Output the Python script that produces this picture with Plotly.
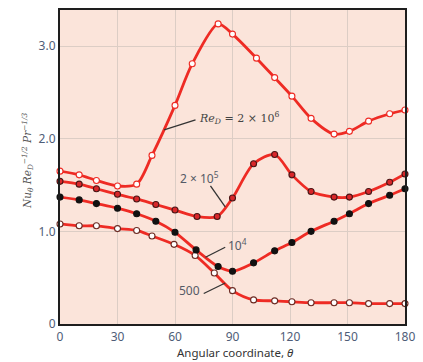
import plotly.graph_objects as go

# Re_D = 2 x 10^6 (open markers)
x_2e6 = [0, 10, 19, 30, 40, 48, 60, 69, 82.5, 90, 102.5, 112, 121, 131, 143, 151, 161, 172, 180]
y_2e6 = [1.65, 1.61, 1.55, 1.49, 1.51, 1.82, 2.36, 2.81, 3.24, 3.13, 2.87, 2.66, 2.46, 2.22, 2.05, 2.08, 2.19, 2.27, 2.31]

# Re_D = 2 x 10^5 (red filled)
x_2e5 = [0, 10, 19, 30, 40, 50, 60, 71.5, 82, 90, 101, 112, 121, 131, 143, 151, 161, 172, 180]
y_2e5 = [1.54, 1.51, 1.46, 1.40, 1.35, 1.29, 1.23, 1.16, 1.16, 1.36, 1.73, 1.83, 1.61, 1.43, 1.37, 1.37, 1.43, 1.53, 1.62]

# Re_D = 10^4 (black filled)
x_1e4 = [0, 10, 19, 30, 40, 50, 60, 71, 82.5, 90, 101, 112, 121, 131, 143, 151, 161, 172, 180]
y_1e4 = [1.37, 1.34, 1.30, 1.25, 1.19, 1.11, 0.99, 0.80, 0.62, 0.57, 0.66, 0.79, 0.88, 1.00, 1.11, 1.19, 1.30, 1.39, 1.46]

# Re_D = 500 (open markers)
x_500 = [0, 10, 19, 30, 40, 48, 59.5, 70.5, 80.5, 90, 101, 112, 121, 131, 143, 151, 161, 172, 180]
y_500 = [1.08, 1.06, 1.06, 1.03, 1.01, 0.95, 0.86, 0.74, 0.55, 0.36, 0.26, 0.25, 0.24, 0.23, 0.23, 0.23, 0.22, 0.22, 0.22]

x_ticks = [0, 30, 60, 90, 120, 150, 180]
y_ticks = [0, 1.0, 2.0, 3.0]
y_tick_labels = ["0", "1.0", "2.0", "3.0"]

RED = "#ee2b24"
series = [
    (x_500, y_500, "white", "#6b2a22"),
    (x_1e4, y_1e4, "#111111", "#111111"),
    (x_2e5, y_2e5, "#d8272a", "#4a1515"),
    (x_2e6, y_2e6, "white", RED),
]

fig = go.Figure()
for xs, ys, fill, edge in series:
    fig.add_trace(go.Scatter(
        x=xs, y=ys, mode="lines+markers",
        line=dict(color=RED, width=2.8, shape="spline", smoothing=0.8),
        marker=dict(size=6, color=fill, line=dict(color=edge, width=1.1)),
        showlegend=False, hoverinfo="skip", cliponaxis=False,
    ))

tick_font = dict(family="Noto Sans, DejaVu Sans, sans-serif", size=12, color="#4f5d78")
label_font = dict(family="Noto Sans, DejaVu Sans, sans-serif", size=12, color="#555a66")
# leader lines (data coords)
leaders = [
    (70.7, 2.205, 54.3, 2.097),
    (78.5, 1.49, 86.2, 1.265),
    (86.2, 0.829, 75.9, 0.721),
    (75.0, 0.329, 86.2, 0.443),
]
for x0, y0, x1, y1 in leaders:
    fig.add_shape(type="line", x0=x0, y0=y0, x1=x1, y1=y1, xref="x", yref="y",
                  line=dict(color="#333333", width=1.3))

fig.add_annotation(x=71.3, y=2.22, xref="x", yref="y", xanchor="left", yanchor="middle",
                   text="<i>Re<sub>D</sub></i> = 2 × 10<sup>6</sup>", showarrow=False,
                   font=dict(family="DejaVu Serif, Liberation Serif, serif", size=11, color="#444444"))
fig.add_annotation(x=73, y=1.58, xref="x", yref="y", xanchor="center", yanchor="middle",
                   text="2 × 10<sup>5</sup>", showarrow=False, font=label_font)
fig.add_annotation(x=86.7, y=0.85, xref="x", yref="y", xanchor="left", yanchor="middle",
                   text="10<sup>4</sup>", showarrow=False, font=label_font)
fig.add_annotation(x=74.3, y=0.36, xref="x", yref="y", xanchor="right", yanchor="middle",
                   text="500", showarrow=False, font=label_font)

# axis titles
fig.add_annotation(x=-0.095, y=0.52, xref="paper", yref="paper", textangle=-90,
                   xanchor="center", yanchor="middle", showarrow=False,
                   text="<i>Nu<sub>θ</sub> Re<sub>D</sub><sup>−1/2</sup> Pr<sup>−1/3</sup></i>",
                   font=dict(family="DejaVu Serif, Liberation Serif, serif", size=10.5, color="#555555"))
fig.add_annotation(x=0.508, y=-0.092, xref="paper", yref="paper",
                   xanchor="center", yanchor="middle", showarrow=False,
                   text="Angular coordinate, <i>θ</i>",
                   font=dict(family="Noto Sans, DejaVu Sans, sans-serif", size=11.5, color="#333333"))

fig.update_layout(
    width=423, height=362,
    margin=dict(l=60, r=15, t=8, b=38),
    paper_bgcolor="white", plot_bgcolor="#fbe4da",
    xaxis=dict(range=[0, 180], tickvals=x_ticks, ticks="", showgrid=True,
               gridcolor="#dccdc5", gridwidth=1, zeroline=False,
               showline=True, mirror=True, linecolor="#1e1e1e", linewidth=2.2,
               tickfont=tick_font),
    yaxis=dict(range=[0, 3.39], tickvals=y_ticks, ticktext=y_tick_labels, ticks="",
               showgrid=True, gridcolor="#dccdc5", gridwidth=1, zeroline=False,
               showline=True, mirror=True, linecolor="#1e1e1e", linewidth=2.2,
               tickfont=tick_font),
)

fig.write_html("out.html")
